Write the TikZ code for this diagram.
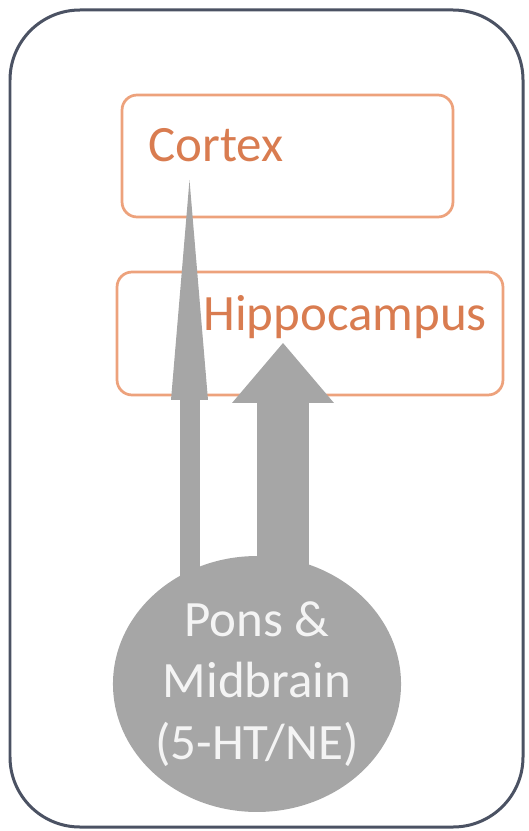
\documentclass[tikz,border=0pt]{standalone}
\usepackage{fontspec}
\usepackage{tikz}
\usetikzlibrary{arrows.meta,shapes.geometric}
\newfontfamily\calfont{Carlito}
\definecolor{framegray}{HTML}{4B5263}
\definecolor{boxorange}{HTML}{EDA27C}
\definecolor{textorange}{HTML}{D97C50}
\definecolor{fibregray}{HTML}{A6A6A6}
\definecolor{softwhite}{HTML}{F4F4F4}

\begin{document}
\begin{tikzpicture}[x=0.02cm,y=-0.02cm,line cap=round,line join=round,
  region/.style={draw=boxorange,line width=0.055cm,rounded corners=0.3cm,inner sep=0pt},
  regiontext/.style={text=textorange,font=\calfont\fontsize{29}{34}\selectfont,inner sep=0pt,anchor=base west},
  fibre/.style={fibregray,line cap=butt,line join=miter}]
  \useasboundingbox (0,0) rectangle (528,831);
  \draw[framegray,line width=0.06cm,rounded corners=1.4cm] (10,10) rectangle (523,827);
  \node[region,minimum width=6.62cm,minimum height=2.44cm] (cortex) at (287.5,156) {};
  \node[region,minimum width=7.72cm,minimum height=2.46cm] (hippo) at (310,333.5) {};
  \node[regiontext] (cortexlabel) at (148,162) {Cortex};
  \node[regiontext] (hippolabel) at (203,330) {Hippocampus};
  \node[ellipse,fill=fibregray,minimum width=5.48cm,minimum height=5.12cm,inner sep=0pt,
    text=softwhite,align=center,font=\calfont\fontsize{29}{35}\selectfont] (pons) at (257,684)
    {Pons \&\\Midbrain\\(5-HT/NE)};
  \coordinate (ctip) at (189.5,180);
  \coordinate (htip) at (283,343);
  \draw[fibre,line width=0.4cm,-{Triangle[length=4.4cm,width=0.74cm,line width=0pt]}]
    ([yshift=-0.7cm]pons.north -| ctip) -- (ctip);
  \draw[fibre,line width=1.06cm,-{Triangle[length=1.2cm,width=2.04cm,line width=0pt]}]
    ([yshift=-0.7cm]pons.north -| htip) -- (htip);
\end{tikzpicture}
\end{document}
